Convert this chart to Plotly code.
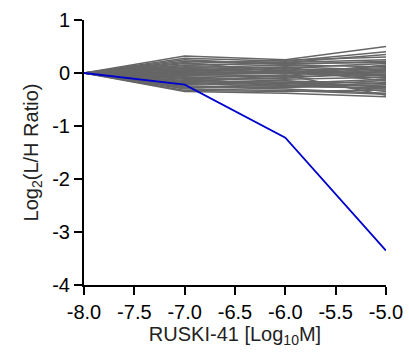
import plotly.graph_objects as go

x_vals = [-8.0, -7.0, -6.0, -5.0]
blue_vals = [0.0, -0.22, -1.22, -3.35]

# gray profiles: values at -7, -6, -5 (all start at 0 at -8)
gray_profiles = [
    [0.32, 0.25, 0.50], [0.28, 0.22, 0.40], [0.22, 0.20, 0.35], [0.18, 0.24, 0.30],
    [0.15, 0.18, 0.20], [0.12, 0.10, 0.18], [0.10, 0.15, 0.12], [0.08, 0.05, 0.10],
    [0.06, 0.12, 0.05], [0.05, 0.02, 0.00], [0.03, 0.08, -0.05], [0.02, -0.02, 0.08],
    [0.00, 0.00, 0.02], [-0.01, 0.03, -0.10], [-0.03, -0.05, 0.15], [-0.05, -0.08, -0.02],
    [-0.06, 0.06, -0.15], [-0.08, -0.12, -0.08], [-0.10, -0.15, -0.20], [-0.12, -0.10, 0.04],
    [-0.14, -0.18, -0.25], [-0.16, -0.20, -0.12], [-0.18, -0.22, -0.30], [-0.20, -0.25, -0.22],
    [-0.22, -0.14, -0.35], [-0.24, -0.28, -0.18], [-0.26, -0.30, -0.38], [-0.28, -0.26, -0.28],
    [-0.30, -0.33, -0.40], [-0.33, -0.35, -0.32], [-0.35, -0.38, -0.45], [0.20, 0.02, -0.06],
    [0.14, 0.20, 0.25], [-0.02, -0.06, 0.06], [-0.18, -0.04, -0.42], [0.09, -0.01, 0.14],
    [-0.11, -0.24, -0.14], [-0.29, -0.20, -0.26], [0.25, 0.16, 0.22], [0.00, 0.10, -0.04],
]

x_ticks = [-8.0, -7.5, -7.0, -6.5, -6.0, -5.5, -5.0]
x_tick_text = ["-8.0", "-7.5", "-7.0", "-6.5", "-6.0", "-5.5", "-5.0"]
y_ticks = [1, 0, -1, -2, -3, -4]
y_tick_text = ["1", "0", "-1", "-2", "-3", "-4"]

fig = go.Figure()
for prof in gray_profiles:
    fig.add_trace(go.Scatter(x=x_vals, y=[0.0] + prof, mode="lines",
                             line=dict(color="#666666", width=1.5),
                             showlegend=False, hoverinfo="skip"))
fig.add_trace(go.Scatter(x=x_vals, y=blue_vals, mode="lines",
                         line=dict(color="#0000cc", width=1.8), showlegend=False))

fam = "Liberation Sans, Arial, sans-serif"
fig.update_layout(
    width=409, height=356,
    margin=dict(l=84, r=23, t=20, b=71),
    plot_bgcolor="white", paper_bgcolor="white",
    font=dict(family=fam, color="black"),
)
fig.update_xaxes(range=[-8, -5], tickvals=x_ticks, ticktext=x_tick_text, automargin=False,
                 showgrid=False, zeroline=False, showline=True, linecolor="black",
                 linewidth=2, ticks="outside", ticklen=8, tickwidth=2, tickcolor="black",
                 tickfont=dict(size=20, family=fam, color="black"),
                 title=dict(text="RUSKI-41 [Log<sub>10</sub>M]", standoff=4,
                            font=dict(size=20, family=fam, color="#222222")))
fig.update_yaxes(range=[-4, 1], tickvals=y_ticks, ticktext=y_tick_text, automargin=False,
                 showgrid=False, zeroline=False, showline=True, linecolor="black",
                 linewidth=2, ticks="outside", ticklen=8, tickwidth=2, tickcolor="black",
                 tickfont=dict(size=20, family=fam, color="black"),
                 title=dict(text="Log<sub>2</sub>(L/H Ratio)", standoff=8,
                            font=dict(size=20, family=fam, color="#222222")))

fig.write_html("out.html", config={"displayModeBar": False},
               post_script="document.body.style.margin='0';")
